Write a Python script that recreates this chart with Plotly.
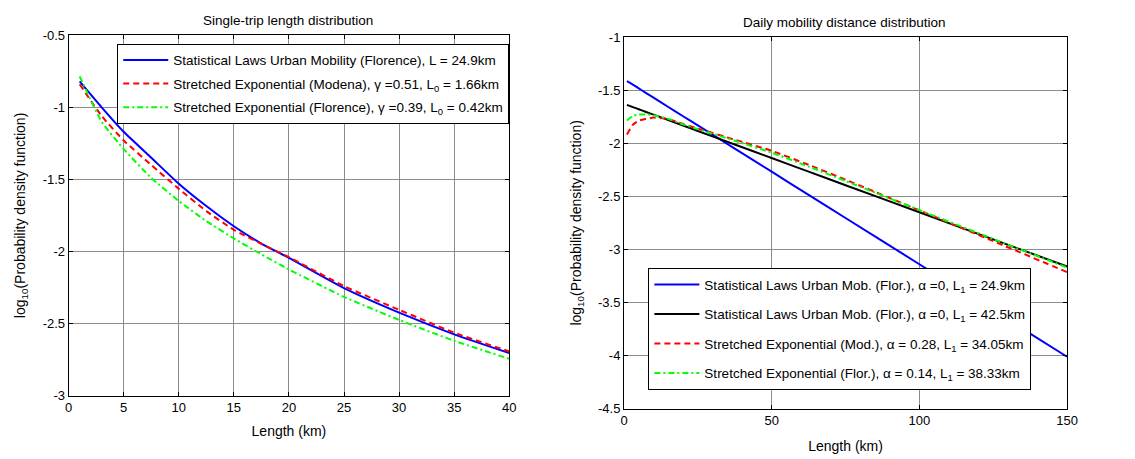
import plotly.graph_objects as go

# ---------------- data ----------------
# Left panel: single-trip length distribution
trip_len = [1, 3, 5, 7.5, 10, 12.5, 15, 17.5, 20, 25, 30, 35, 40]
trip_stat_flor = [-0.82, -1.00, -1.17, -1.35, -1.53, -1.685, -1.825, -1.945, -2.045, -2.255, -2.425, -2.575, -2.705]
trip_se_mod = [-0.84, -1.06, -1.23, -1.40, -1.565, -1.72, -1.85, -1.948, -2.04, -2.24, -2.405, -2.563, -2.694]
trip_se_flor = [-0.785, -1.10, -1.29, -1.49, -1.65, -1.79, -1.91, -2.02, -2.125, -2.315, -2.475, -2.62, -2.745]

# Right panel: daily mobility distance distribution
day_len = [1, 3, 5, 7.5, 10, 15, 20, 25, 37.5, 50, 62.5, 75, 100, 125, 150]
day_stat_249 = [-1.415, -1.448, -1.483, -1.527, -1.57, -1.658, -1.745, -1.832, -2.05, -2.268, -2.486, -2.704, -3.14, -3.576, -4.012]
day_stat_425 = [-1.638, -1.659, -1.679, -1.705, -1.73, -1.781, -1.832, -1.884, -2.011, -2.139, -2.267, -2.395, -2.65, -2.906, -3.161]
day_se_mod = [-1.917, -1.825, -1.786, -1.77, -1.758, -1.772, -1.818, -1.862, -1.966, -2.071, -2.203, -2.343, -2.632, -2.922, -3.214]
day_se_flor = [-1.785, -1.742, -1.73, -1.728, -1.735, -1.77, -1.822, -1.867, -1.976, -2.089, -2.219, -2.355, -2.63, -2.902, -3.171]

left_xticks = [0, 5, 10, 15, 20, 25, 30, 35, 40]
left_yticks = [-3, -2.5, -2, -1.5, -1, -0.5]
left_yticklabels = ["-3", "-2.5", "-2", "-1.5", "-1", "-0.5"]
right_xticks = [0, 50, 100, 150]
right_yticks = [-4.5, -4, -3.5, -3, -2.5, -2, -1.5, -1]
right_yticklabels = ["-4.5", "-4", "-3.5", "-3", "-2.5", "-2", "-1.5", "-1"]

left_names = [
    "Statistical Laws Urban Mobility (Florence), L = 24.9km",
    "Stretched Exponential (Modena), γ =0.51, L<sub>0</sub> = 1.66km",
    "Stretched Exponential (Florence), γ =0.39, L<sub>0</sub> = 0.42km",
]
right_names = [
    "Statistical Laws Urban Mob. (Flor.), α =0, L<sub>1</sub> = 24.9km",
    "Statistical Laws Urban Mob. (Flor.), α =0, L<sub>1</sub> = 42.5km",
    "Stretched Exponential (Mod.), α = 0.28, L<sub>1</sub> = 34.05km",
    "Stretched Exponential (Flor.), α = 0.14, L<sub>1</sub> = 38.33km",
]

FONT = "Liberation Sans, Arial, sans-serif"
BLUE, RED, GREEN, BLACK = "#0000ff", "#ff0000", "#00ff00", "#000000"
DASH = "6px,4px"
DASHDOT = "6px,3px,2px,3px"

fig = go.Figure()

# left panel
for i, (ys, name, col, dash) in enumerate([
    (trip_stat_flor, left_names[0], BLUE, "solid"),
    (trip_se_mod, left_names[1], RED, DASH),
    (trip_se_flor, left_names[2], GREEN, DASHDOT),
]):
    fig.add_trace(go.Scatter(x=trip_len, y=ys, mode="lines", name=name,
                             legendgroup="L%d" % i,
                             line=dict(color=col, width=2, dash=dash, shape="spline", smoothing=0.5),
                             xaxis="x", yaxis="y", legend="legend"))

# right panel
for i, (ys, name, col, dash) in enumerate([
    (day_stat_249, right_names[0], BLUE, "solid"),
    (day_stat_425, right_names[1], BLACK, "solid"),
    (day_se_mod, right_names[2], RED, DASH),
    (day_se_flor, right_names[3], GREEN, DASHDOT),
]):
    fig.add_trace(go.Scatter(x=day_len, y=ys, mode="lines", name=name,
                             legendgroup="R%d" % i,
                             line=dict(color=col, width=2, dash=dash, shape="spline", smoothing=0.5),
                             xaxis="x2", yaxis="y2", legend="legend2"))

W, H = 1135, 459
FS = 13
FL = 13.5
axis_common = dict(
    showline=True, linecolor="black", linewidth=1, mirror="allticks",
    ticks="inside", ticklen=4, tickcolor="black",
    showgrid=True, gridcolor="#8c8c8c", gridwidth=1,
    zeroline=False, tickfont=dict(family=FONT, size=FS, color="black"),
    title_font=dict(family=FONT, size=14, color="black"),
)
ylabel = "log<sub>10</sub>(Probability density function)"

fig.update_layout(
    width=W, height=H,
    margin=dict(l=0, r=0, t=0, b=0),
    paper_bgcolor="white", plot_bgcolor="white",
    font=dict(family=FONT, size=FS, color="black"),
    xaxis=dict(axis_common, domain=[65.5 / W, 512 / W], range=[0, 40],
               tickvals=left_xticks, ticktext=[str(v) for v in left_xticks],
               title=dict(text="Length (km)", standoff=12), anchor="y"),
    yaxis=dict(axis_common, domain=[1 - 401.7 / H, 1 - 29.2 / H], range=[-3, -0.5],
               tickvals=left_yticks, ticktext=left_yticklabels,
               title=dict(text=ylabel, standoff=13), anchor="x"),
    xaxis2=dict(axis_common, domain=[628.3 / W, 1077.3 / W], range=[0, 150],
                tickvals=right_xticks, ticktext=[str(v) for v in right_xticks],
                title=dict(text="Length (km)", standoff=14), anchor="y2"),
    yaxis2=dict(axis_common, domain=[1 - 415.1 / H, 1 - 31.2 / H], range=[-4.5, -1],
                tickvals=right_yticks, ticktext=right_yticklabels,
                title=dict(text=ylabel, standoff=13), anchor="x2"),
    legend=dict(x=512 / W, xanchor="right", y=1 - 38 / H, yanchor="top",
                bgcolor="white", bordercolor="black", borderwidth=1, itemwidth=45,
                font=dict(family=FONT, size=FL, color="black"), tracegroupgap=3),
    legend2=dict(x=653 / W, xanchor="left", y=1 - 270 / H, yanchor="top",
                 bgcolor="white", bordercolor="black", borderwidth=1, itemwidth=45,
                 font=dict(family=FONT, size=FL, color="black"), tracegroupgap=9),
    showlegend=True,
    annotations=[
        dict(text="Single-trip length distribution", x=288 / W, y=1 - 14 / H,
             xref="paper", yref="paper", xanchor="center", yanchor="middle", showarrow=False,
             font=dict(family=FONT, size=FL, color="black")),
        dict(text="Daily mobility distance distribution", x=852 / W, y=1 - 16 / H,
             xref="paper", yref="paper", xanchor="center", yanchor="middle", showarrow=False,
             font=dict(family=FONT, size=FL, color="black")),
    ],
)

fig.write_html("out.html")
